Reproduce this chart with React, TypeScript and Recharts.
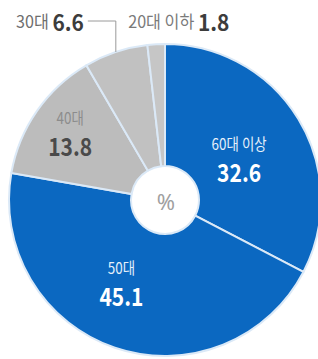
import { PieChart, Pie, Cell } from 'recharts'

const ageGroups = ['60대 이상', '50대', '40대', '30대', '20대 이하']
const shares = [32.6, 45.1, 13.8, 6.6, 1.8]

const data = ageGroups.map((name, i) => ({ name, value: shares[i] }))

const SLICE_COLORS = ['#0b68c1', '#0b68c1', '#bcbcbc', '#c1c1c1', '#c6c6c6']
const FONT = "'Noto Sans CJK KR', 'Noto Sans', sans-serif"
const SQUEEZE = 0.84 // the original uses a condensed gothic
const OUTER_SQUEEZE = 0.95
const RAD = Math.PI / 180

// label placement per slice: inside (polar from slice middle) or outside with leader
const INSIDE = [
  { rf: 0.55, nudge: -1, nameFill: '#e6f0fb', valueFill: '#ffffff' },
  { rf: 0.59, nudge: -9.5, nameFill: '#e6f0fb', valueFill: '#ffffff' },
  { rf: 0.75, nudge: -1, nameFill: '#8c8c8c', valueFill: '#4a4a4a' },
]

function renderLabel(props: any) {
  const { cx, cy, midAngle, outerRadius, index, name, value } = props
  if (index < 3) {
    const cfg = INSIDE[index]
    const a = (midAngle + cfg.nudge) * RAD
    const x = cx + outerRadius * cfg.rf * Math.cos(a)
    const y = cy - outerRadius * cfg.rf * Math.sin(a)
    return (
      <g key={name} transform={`translate(${x},${y}) scale(${SQUEEZE},1)`}>
        <text x={0} y={-14} textAnchor="middle" dominantBaseline="central"
          fontFamily={FONT} fontSize={16} fill={cfg.nameFill}>{name}</text>
        <text x={0} y={14} textAnchor="middle" dominantBaseline="central"
          fontFamily={FONT} fontSize={25} fontWeight={700} fill={cfg.valueFill}>{value}</text>
      </g>
    )
  }
  const a = midAngle * RAD
  const px = cx + outerRadius * Math.cos(a)
  const py = cy - outerRadius * Math.sin(a)
  const ly = 21
  if (index === 3) {
    return (
      <g key={name}>
        <polyline points={`${px},${py} ${px},${ly} ${px - 28},${ly}`}
          fill="none" stroke="#9a9a9a" strokeWidth={1} />
        <g transform={`translate(${px - 32},${ly}) scale(${OUTER_SQUEEZE},1)`}>
          <text x={0} y={0} textAnchor="end" dominantBaseline="central" fontFamily={FONT}>
            <tspan fontSize={17} fill="#6e6e6e">{name} </tspan>
            <tspan fontSize={22} fontWeight={700} fill="#3c3c3c">{value}</tspan>
          </text>
        </g>
      </g>
    )
  }
  return (
    <g key={name} transform={`translate(${px - 28},${ly}) scale(${OUTER_SQUEEZE},1)`}>
      <text x={0} y={0} textAnchor="start" dominantBaseline="central" fontFamily={FONT}>
        <tspan fontSize={17} fill="#7a7a7a">{name} </tspan>
        <tspan fontSize={22} fontWeight={700} fill="#3c3c3c">{value}</tspan>
      </text>
    </g>
  )
}

export default function App() {
  return (
    <div style={{ width: 318, height: 359, background: '#fff' }}>
      <style>{'body{margin:0}'}</style>
      <PieChart width={318} height={359} margin={{ top: 0, right: 0, bottom: 0, left: 0 }}>
        <Pie
          data={data}
          dataKey="value"
          nameKey="name"
          cx={165}
          cy={200}
          innerRadius={34}
          outerRadius={156}
          startAngle={90}
          endAngle={-270}
          stroke="#dbe9f7"
          strokeWidth={2}
          label={renderLabel}
          labelLine={false}
          isAnimationActive={false}
        >
          {data.map((d, i) => (
            <Cell key={d.name} fill={SLICE_COLORS[i]} />
          ))}
        </Pie>
        <text x={166} y={201} textAnchor="middle" dominantBaseline="central"
          fontFamily="'Noto Sans', sans-serif" fontSize={22} fill="#a0a0a0">%</text>
      </PieChart>
    </div>
  )
}
